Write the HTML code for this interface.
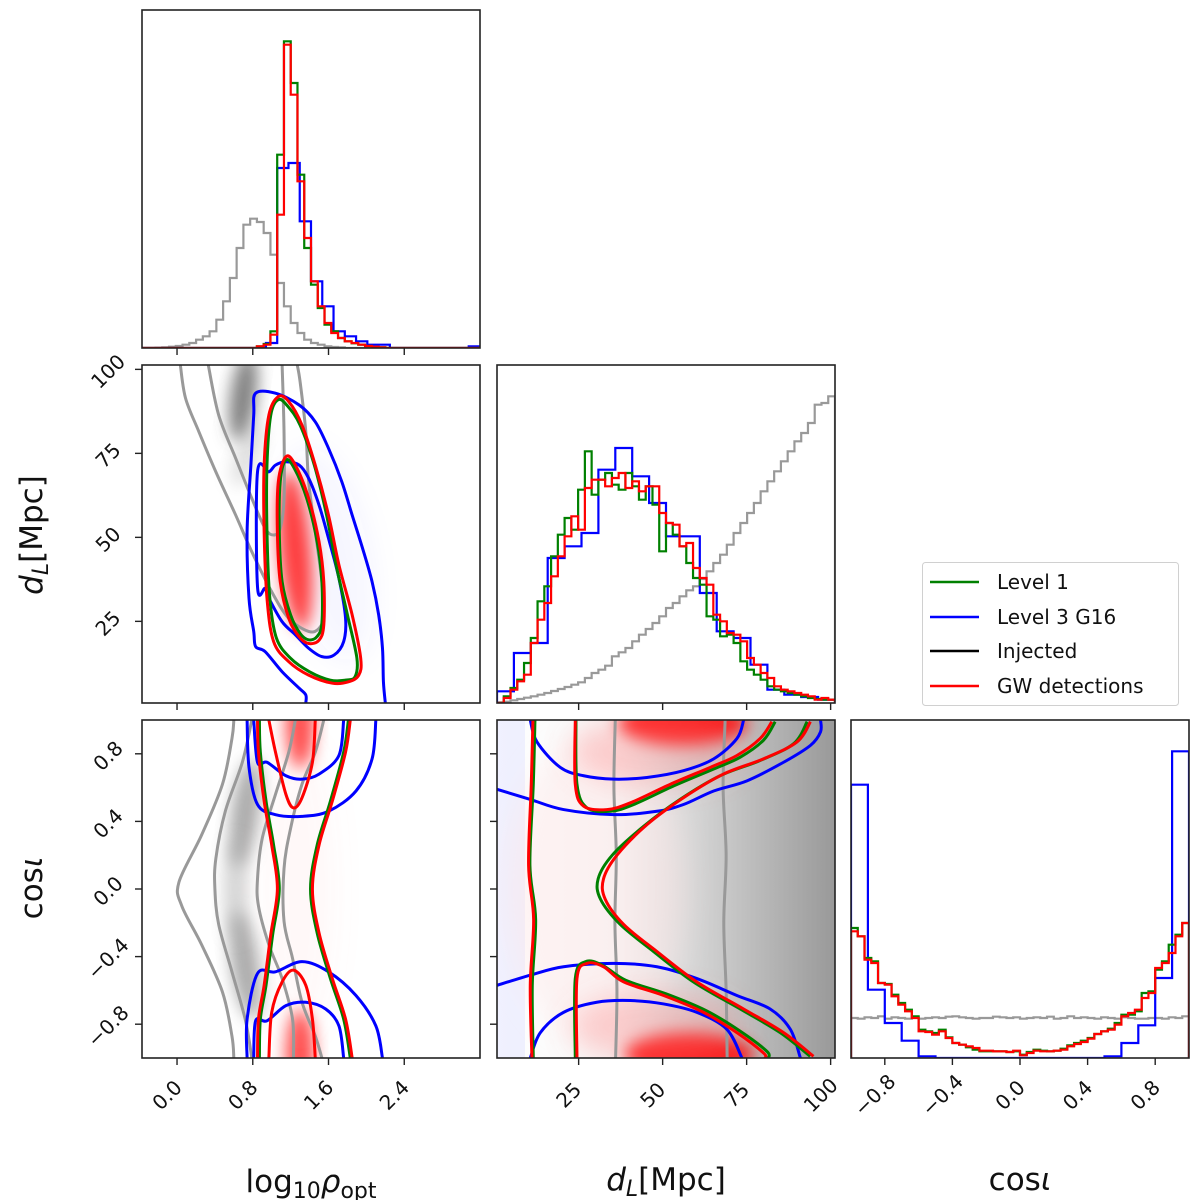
<!DOCTYPE html>
<html><head><meta charset="utf-8"><style>
html,body{margin:0;padding:0;background:#fff;}
svg{display:block;font-family:"DejaVu Sans","Liberation Sans",sans-serif;}
</style></head><body>
<svg id="fig" width="1200" height="1200" viewBox="0 0 1200 1200" xmlns="http://www.w3.org/2000/svg">
<defs>
<filter id="blur8" x="-50%" y="-50%" width="200%" height="200%"><feGaussianBlur stdDeviation="8"/></filter>
<filter id="blur14" x="-50%" y="-50%" width="200%" height="200%"><feGaussianBlur stdDeviation="14"/></filter>
<linearGradient id="greyRamp" x1="0" x2="1" y1="0" y2="0">
<stop offset="0" stop-color="#999" stop-opacity="0"/><stop offset="0.35" stop-color="#999" stop-opacity="0.08"/><stop offset="1" stop-color="#999" stop-opacity="1"/></linearGradient>
</defs>
</svg>
<script>
// ---- data ----
const rhoRange=[-0.37,3.2], dRange=[0.7,101.3], cRange=[-1,1];
const rhoTicks=[0.0,0.8,1.6,2.4], rhoTickLabels=["0.0","0.8","1.6","2.4"];
const dTicks=[25,50,75,100], dTickLabels=["25","50","75","100"];
const cTicks=[-0.8,-0.4,0.0,0.4,0.8], cTickLabels=["\u22120.8","\u22120.4","0.0","0.4","0.8"];
// rho histograms (50 bins; blue 30 bins)
const rhoGrey=[0,0,1,2,4,6,10,15,25,35,50,85,140,210,300,370,388,378,345,280,195,125,75,45,25,15,10,5,3,2,0,0,0,0,0,0,0,0,0,0,0,0,0,0,0,0,0,0,0,0];
const rhoRed=[0,0,0,0,0,0,0,0,0,0,0,0,0,0,0,0,0,5,10,40,400,910,760,500,330,200,125,75,45,30,20,15,10,6,4,2,0,0,0,0,0,0,0,0,0,0,0,0,0,0];
const rhoGreen=[0,0,0,0,0,0,0,0,0,0,0,0,0,0,0,0,0,5,12,50,580,920,795,520,300,190,120,70,50,30,20,14,10,6,3,2,0,0,0,0,0,0,0,0,0,0,0,0,0,0];
const rhoBlue=[0,0,0,0,0,0,0,0,0,0,0,15,540,555,380,200,125,50,35,20,10,10,0,0,0,0,0,0,0,5];
// dL histograms
const dGrey=[2,4,8,12,16,20,25,30,36,42,48,55,62,75,90,100,112,140,152,165,185,205,222,240,260,285,300,320,338,350,372,395,420,445,475,510,540,570,600,635,665,695,725,755,785,810,840,895,900,920];
const dRed=[0,15,40,65,85,180,250,300,380,440,500,560,520,645,670,670,650,675,690,645,665,635,650,650,570,540,535,470,480,405,375,355,265,245,210,205,185,135,115,90,75,50,40,35,30,25,20,10,15,10];
const dGreen=[0,20,45,70,120,195,305,350,440,505,555,520,640,755,625,670,690,655,640,690,650,610,650,595,455,540,505,470,420,375,355,260,250,200,205,180,125,100,85,70,50,40,35,30,25,20,15,12,10,10];
const dBlue=[35,150,180,435,470,510,700,765,680,600,500,500,330,215,195,115,40,25,18,10];
// cos histograms
const cRed=[380,365,295,285,225,220,185,160,140,120,80,78,70,80,60,45,40,35,30,22,22,20,20,18,22,8,15,22,20,20,22,25,35,42,48,58,72,80,85,100,125,135,145,180,195,270,285,315,365,405];
const cGreen=[390,365,300,290,225,222,190,165,145,125,85,80,75,85,62,45,40,32,25,20,20,20,20,18,20,10,18,25,22,20,22,28,38,45,52,60,72,80,88,105,130,130,140,195,200,265,290,340,370,405];
const cGrey=[120,118,122,120,125,118,122,120,118,122,118,120,122,120,124,125,122,120,118,120,120,124,122,120,122,118,120,122,120,124,118,120,125,120,122,120,118,122,120,118,122,120,118,118,120,120,118,122,120,125];
const cBlue=[820,205,105,52,5,0,0,0,0,0,0,0,0,0,0,5,45,98,240,920];
// contours: rho vs dL
const rdBlueOuter=[[1.36,0.7],[1.36,3.1],[1.29,5.1],[1.11,10],[0.93,16],[0.83,17.5],[0.81,22],[0.76,31.9],[0.74,51.7],[0.78,71.5],[0.81,86.4],[0.83,92.9],[1.04,92.9],[1.29,89.4],[1.46,84.4],[1.6,76.5],[1.74,66.6],[1.85,56.6],[1.96,46.7],[2.06,36.8],[2.13,26.9],[2.17,17],[2.18,7],[2.2,0.7]];
const rdBlueInner=[[0.85,69.5],[0.97,69.5],[1.04,71.5],[1.15,72.5],[1.29,71.5],[1.39,67.6],[1.5,59.6],[1.6,49.7],[1.71,37.8],[1.78,25.9],[1.76,19],[1.66,15],[1.53,14.5],[1.39,17],[1.25,21],[1.11,24.9],[0.97,31.9],[0.93,34.8],[0.85,35.3]];
const rdRedOuter=[[1.07,91.9],[1.18,90.4],[1.32,83.4],[1.46,71.5],[1.6,56.6],[1.71,41.8],[1.85,26.9],[1.94,14],[1.92,9],[1.81,7],[1.64,6.6],[1.39,9],[1.18,13],[1.02,19],[0.95,31.9],[0.92,51.7],[0.92,71.5],[0.97,86.4]];
const rdGreenOuter=[[1.07,91],[1.17,89],[1.3,83.4],[1.45,71.5],[1.58,56.6],[1.68,41.8],[1.8,26.9],[1.9,14],[1.88,8.5],[1.78,7.5],[1.62,7.5],[1.4,10],[1.2,14],[1.05,20],[0.98,31.9],[0.95,51.7],[0.95,71.5],[0.99,86.4]];
const rdRedInner=[[1.15,74],[1.25,71.5],[1.39,61.6],[1.5,48.7],[1.55,36.8],[1.55,23.9],[1.5,19.4],[1.39,18.4],[1.29,20.4],[1.18,25.9],[1.09,36.8],[1.06,51.7],[1.07,66.6]];
const rdGreenInner=[[1.15,73],[1.24,70.5],[1.37,61.6],[1.48,48.7],[1.53,36.8],[1.53,24.5],[1.48,20.5],[1.39,19.5],[1.3,21.4],[1.2,26.9],[1.11,36.8],[1.08,51.7],[1.09,66.6]];
const rdGreyOuter=[[0.035,101.3],[0.09,91.4],[0.23,81.5],[0.41,69.5],[0.62,56.6],[0.79,45.7],[1.0,33.8],[1.18,25.9],[1.39,22],[1.5,22.9],[1.55,26.9],[1.53,36.8],[1.46,51.7],[1.39,66.6],[1.36,81.5],[1.3,96.3],[1.27,101.3]];
const rdGreyInner=[[0.33,101.3],[0.44,86.4],[0.62,73.5],[0.79,61.6],[0.93,52.7],[1.02,50.7],[1.09,52.7],[1.13,61.6],[1.13,81.5],[1.11,101.3]];
// contours: rho vs cos
const rcGreyOuterL=[[0.6,1],[0.58,0.89],[0.48,0.62],[0.26,0.32],[0.02,0.04],[0.05,-0.1],[0.26,-0.33],[0.48,-0.61],[0.58,-0.87],[0.6,-1]];
const rcGreyInnerL=[[0.79,1],[0.69,0.75],[0.51,0.46],[0.41,0.18],[0.4,0],[0.44,-0.21],[0.58,-0.49],[0.72,-0.77],[0.79,-1]];
const rcGreyInnerR=[[1.25,1],[1.18,0.81],[1.04,0.56],[0.9,0.3],[0.85,0.06],[0.86,-0.1],[0.97,-0.33],[1.11,-0.53],[1.22,-0.77],[1.23,-1]];
const rcGreyOuterR=[[1.55,1],[1.46,0.81],[1.32,0.62],[1.2,0.36],[1.13,0.12],[1.13,-0.19],[1.22,-0.41],[1.32,-0.67],[1.46,-0.87],[1.53,-1]];
const rcRedL=[[0.85,1],[0.86,0.81],[0.92,0.52],[1.0,0.26],[1.06,0],[0.99,-0.27],[0.92,-0.57],[0.86,-0.77],[0.85,-1]];
const rcRedR=[[1.83,1],[1.78,0.81],[1.64,0.52],[1.5,0.26],[1.43,0],[1.5,-0.26],[1.64,-0.53],[1.78,-0.77],[1.85,-1]];
const rcGreenL=[[0.87,1],[0.88,0.81],[0.94,0.52],[1.02,0.26],[1.08,0],[1.01,-0.27],[0.94,-0.57],[0.88,-0.77],[0.87,-1]];
const rcGreenR=[[1.81,1],[1.76,0.81],[1.62,0.52],[1.48,0.26],[1.41,0],[1.48,-0.26],[1.62,-0.53],[1.76,-0.77],[1.83,-1]];
const rcRedTop=[[0.97,1],[1.04,0.81],[1.15,0.56],[1.23,0.48],[1.32,0.54],[1.43,0.75],[1.46,1]];
const rcRedBot=[[0.97,-1],[1.0,-0.73],[1.11,-0.55],[1.23,-0.48],[1.36,-0.57],[1.43,-0.77],[1.46,-1]];
const rcBlueOuterTop=[[0.74,1],[0.76,0.72],[0.85,0.5],[1.04,0.44],[1.32,0.43],[1.6,0.46],[1.89,0.58],[2.06,0.77],[2.1,1]];
const rcBlueInnerTop=[[0.81,1],[0.85,0.75],[0.95,0.75],[1.15,0.67],[1.32,0.65],[1.5,0.68],[1.71,0.79],[1.76,1]];
const rcBlueOuterBot=[[0.74,-1],[0.74,-0.77],[0.85,-0.5],[1.04,-0.49],[1.32,-0.43],[1.6,-0.49],[1.89,-0.63],[2.1,-0.81],[2.17,-1]];
const rcBlueInnerBot=[[0.81,-1],[0.83,-0.78],[0.95,-0.78],[1.15,-0.69],[1.36,-0.67],[1.57,-0.71],[1.71,-0.81],[1.76,-1]];
// contours: dL vs cos
const dcGreyA=[[35.9,1],[35.5,0.6],[36.2,0.2],[35.8,-0.2],[36.4,-0.6],[36.0,-1]];
const dcGreyB=[[68.6,1],[68.0,0.6],[68.9,0.2],[68.2,-0.2],[68.9,-0.6],[69.2,-1]];
const dcRedLeft=[[11.4,1],[10.9,0.62],[10.1,0.14],[11.6,-0.18],[10.6,-0.57],[11.1,-1]];
const dcGreenLeft=[[12.0,1],[11.5,0.62],[10.5,0.14],[12.2,-0.18],[11.2,-0.57],[11.5,-1]];
const dcRedTop=[[24,1],[24,0.62],[26.5,0.49],[33.4,0.47],[40.4,0.51],[52.3,0.62],[64.2,0.72],[72.1,0.79],[79,0.89],[82.5,0.99]];
const dcGreenTop=[[24.2,1],[24.5,0.62],[27.5,0.48],[34.5,0.46],[41.4,0.5],[53.3,0.61],[65.2,0.71],[73.1,0.78],[80,0.88],[83.5,0.99]];
const dcRedS=[[94,0.99],[90,0.87],[80,0.77],[68.1,0.68],[56.2,0.54],[45.3,0.38],[36.4,0.2],[32.4,0.06],[32.9,-0.06],[38.4,-0.21],[48.3,-0.37],[60.2,-0.55],[74.1,-0.71],[86,-0.85],[94.9,-0.99]];
const dcGreenS=[[93,0.99],[89,0.86],[79,0.76],[67.1,0.67],[55.2,0.53],[44.3,0.37],[35.0,0.2],[30.8,0.06],[31.5,-0.06],[37.4,-0.21],[47.3,-0.37],[59.2,-0.55],[73.1,-0.71],[85,-0.85],[93.9,-0.99]];
const dcRedBot=[[24.5,-1],[24.5,-0.53],[27.5,-0.44],[32.4,-0.46],[38.4,-0.55],[50.3,-0.63],[62.2,-0.73],[72.1,-0.85],[80,-0.97],[80.5,-1]];
const dcGreenBot=[[24.0,-1],[24.0,-0.53],[27,-0.43],[32,-0.45],[39,-0.54],[51,-0.62],[63,-0.72],[73,-0.84],[81,-0.96],[81.5,-1]];
const dcBlueOuterTop=[[0.7,0.59],[10.6,0.53],[20.5,0.47],[35.4,0.44],[48.3,0.46],[56.2,0.5],[65.2,0.58],[75.1,0.64],[86,0.75],[94,0.85],[97,0.93],[97,1]];
const dcBlueInnerTop=[[10.6,1],[12.6,0.87],[19.5,0.72],[26.5,0.67],[35.4,0.65],[45.3,0.66],[56.2,0.7],[65.2,0.77],[72.1,0.89],[74.1,1]];
const dcBlueOuterBot=[[0.7,-0.57],[10.6,-0.51],[20.5,-0.46],[35.4,-0.44],[48.3,-0.46],[60.2,-0.53],[72.1,-0.63],[82,-0.71],[88,-0.83],[91,-1]];
const dcBlueInnerBot=[[10.6,-1],[13.6,-0.85],[20.5,-0.73],[30.4,-0.67],[40.4,-0.66],[50.3,-0.68],[60.2,-0.73],[69.1,-0.83],[73.6,-1]];

// ---- drawing ----
const NS="http://www.w3.org/2000/svg";
const svg=document.getElementById('fig');
function el(tag,attrs,parent){const e=document.createElementNS(NS,tag);for(const k in attrs)e.setAttribute(k,attrs[k]);(parent||svg).appendChild(e);return e;}
const C={red:'#ff0000',green:'#008000',blue:'#0000ff',grey:'#999999'};
function panel(name,x0,y0,xr,yr){
  const p={x0,y0,w:338,h:338,xr,yr};
  p.sx=v=>x0+(v-xr[0])/(xr[1]-xr[0])*338;
  p.sy=v=>y0+338-(v-yr[0])/(yr[1]-yr[0])*338;
  p.g=el('g',{});
  
  
  const cp=el('clipPath',{id:'clip-'+name},svg.querySelector('defs'));
  el('rect',{x:x0,y:y0,width:338,height:338},cp);
  p.inner=el('g',{'clip-path':'url(#clip-'+name+')'},p.g);
  return p;
}
function frame(p){const r=el('rect',{x:p.x0,y:p.y0,width:338,height:338,fill:'none',stroke:'#222','stroke-width':1.6},p.g);
  
  }
function hist(p,vals,range,color,name,sw){
  const n=vals.length,b=p.y0+338;let d='M'+p.sx(range[0])+','+b;
  for(let i=0;i<n;i++){const xa=p.sx(range[0]+(range[1]-range[0])*i/n),xb=p.sx(range[0]+(range[1]-range[0])*(i+1)/n),y=b-vals[i]/3;d+=' L'+xa+','+y+' L'+xb+','+y;}
  d+=' L'+p.sx(range[1])+','+b;
  const e=el('path',{d,fill:'none',stroke:color,'stroke-width':sw||2.2,'stroke-linejoin':'miter'},p.inner);
  
  
}
function smooth(pts,closed){
  const P=closed?[pts[pts.length-1],...pts,pts[0],pts[1]]:[pts[0],...pts,pts[pts.length-1]];
  let d='M'+P[1][0]+','+P[1][1];
  for(let i=1;i<P.length-2;i++){const p0=P[i-1],p1=P[i],p2=P[i+1],p3=P[i+2];
    d+=' C'+(p1[0]+(p2[0]-p0[0])/6)+','+(p1[1]+(p2[1]-p0[1])/6)+' '+(p2[0]-(p3[0]-p1[0])/6)+','+(p2[1]-(p3[1]-p1[1])/6)+' '+p2[0]+','+p2[1];}
  return d+(closed?'Z':'');
}
function contour(p,data,color,name,closed,sw){
  const pts=data.map(q=>[p.sx(q[0]),p.sy(q[1])]);
  const e=el('path',{d:smooth(pts,closed),fill:'none',stroke:color,'stroke-width':sw||3,'stroke-linejoin':'round'},p.inner);
  
  
}
function blob(p,cx,cy,rx,ry,color,op,rot,filt){
  const e=el('ellipse',{cx:p.sx(cx),cy:p.sy(cy),rx,ry,fill:color,'fill-opacity':op,filter:'url(#'+(filt||'blur14')+')',transform:'rotate('+(rot||0)+' '+p.sx(cx)+' '+p.sy(cy)+')'},p.inner);
  
  
}
function xticks(p,ticks,labels){
  ticks.forEach((t,i)=>{const x=p.sx(t),b=p.y0+338;
    const l=el('line',{x1:x,x2:x,y1:b,y2:b+7,stroke:'#222','stroke-width':1.4},p.g);
    
    
    if(labels){const cx=x-10,cy=b+37;const tx=el('text',{x:cx,y:cy+7,'font-size':20,'text-anchor':'middle',fill:'#111',transform:'rotate(-45 '+cx+' '+cy+')'},p.g);tx.textContent=labels[i];
      
      }
  });
}
function yticks(p,ticks,labels){
  ticks.forEach((t,i)=>{const y=p.sy(t),l0=p.x0;
    const l=el('line',{x1:l0-7,x2:l0,y1:y,y2:y,stroke:'#222','stroke-width':1.4},p.g);
    
    
    if(labels){const cx=l0-34,cy=y+2;const tx=el('text',{x:cx,y:cy+7,'font-size':20,'text-anchor':'middle',fill:'#111',transform:'rotate(-45 '+cx+' '+cy+')'},p.g);tx.textContent=labels[i];
      
      }
  });
}

// Panel: rho histogram
const p1=panel('rho-histogram',142,10,rhoRange,[0,1]);
hist(p1,rhoGrey,rhoRange,C.grey,'rho-hist-injected');
hist(p1,rhoBlue,rhoRange,C.blue,'rho-hist-level3');
hist(p1,rhoGreen,rhoRange,C.green,'rho-hist-level1');
hist(p1,rhoRed,rhoRange,C.red,'rho-hist-gw');
frame(p1);xticks(p1,rhoTicks,null);

// Panel: rho vs dL
const p2=panel('rho-dl-panel',142,365,rhoRange,dRange);
blob(p2,0.7,92,13,45,'#555',0.75,8,'blur8');
blob(p2,0.75,75,12,35,'#999',0.3,20,'blur8');
blob(p2,1.6,45,40,110,'#3344ff',0.05,-12);
blob(p2,1.25,46,16,80,'#ff0000',0.75,-5,'blur8');
contour(p2,rdGreyOuter,C.grey,'rho-dl-injected-outer',false);
contour(p2,rdGreyInner,C.grey,'rho-dl-injected-inner',false);
contour(p2,rdBlueOuter,C.blue,'rho-dl-level3-outer',false);
contour(p2,rdBlueInner,C.blue,'rho-dl-level3-inner',true);
contour(p2,rdGreenOuter,C.green,'rho-dl-level1-outer',true);
contour(p2,rdGreenInner,C.green,'rho-dl-level1-inner',true);
contour(p2,rdRedOuter,C.red,'rho-dl-gw-outer',true);
contour(p2,rdRedInner,C.red,'rho-dl-gw-inner',true);
frame(p2);xticks(p2,rhoTicks,null);yticks(p2,dTicks,dTickLabels);

// Panel: dL histogram
const p3=panel('dl-histogram',497,365,dRange,[0,1]);
hist(p3,dGrey,dRange,C.grey,'dl-hist-injected');
hist(p3,dBlue,dRange,C.blue,'dl-hist-level3');
hist(p3,dGreen,dRange,C.green,'dl-hist-level1');
hist(p3,dRed,dRange,C.red,'dl-hist-gw');
frame(p3);xticks(p3,dTicks,null);

// Panel: rho vs cos
const p4=panel('rho-cos-panel',142,720,rhoRange,cRange);
blob(p4,0.72,0.45,14,55,'#888',0.7,8,'blur8');
blob(p4,0.72,-0.45,14,55,'#888',0.7,-8,'blur8');
blob(p4,0.62,0,12,50,'#aaa',0.5,0,'blur8');
blob(p4,1.3,0.98,14,45,'#ff0000',0.7,0,'blur8');
blob(p4,1.3,-0.98,14,45,'#ff0000',0.7,0,'blur8');
blob(p4,1.3,0,35,150,'#ff8888',0.06,0);
contour(p4,rcGreyOuterL,C.grey,'rho-cos-injected-outer-left',false);
contour(p4,rcGreyInnerL,C.grey,'rho-cos-injected-inner-left',false);
contour(p4,rcGreyInnerR,C.grey,'rho-cos-injected-inner-right',false);
contour(p4,rcGreyOuterR,C.grey,'rho-cos-injected-outer-right',false);
contour(p4,rcBlueOuterTop,C.blue,'rho-cos-level3-outer-top',false);
contour(p4,rcBlueInnerTop,C.blue,'rho-cos-level3-inner-top',false);
contour(p4,rcBlueOuterBot,C.blue,'rho-cos-level3-outer-bottom',false);
contour(p4,rcBlueInnerBot,C.blue,'rho-cos-level3-inner-bottom',false);
contour(p4,rcGreenL,C.green,'rho-cos-level1-left',false);
contour(p4,rcGreenR,C.green,'rho-cos-level1-right',false);
contour(p4,rcRedL,C.red,'rho-cos-gw-left',false);
contour(p4,rcRedR,C.red,'rho-cos-gw-right',false);
contour(p4,rcRedTop,C.red,'rho-cos-gw-inner-top',false);
contour(p4,rcRedBot,C.red,'rho-cos-gw-inner-bottom',false);
frame(p4);xticks(p4,rhoTicks,rhoTickLabels);yticks(p4,cTicks,cTickLabels);

// Panel: dL vs cos
const p5=panel('dl-cos-panel',497,720,dRange,cRange);
(function(){const r=el('rect',{x:497,y:720,width:338,height:338,fill:'url(#greyRamp)'},p5.inner);
  
  
  const b=el('rect',{x:497,y:720,width:28,height:338,fill:'#dde0ff','fill-opacity':0.45},p5.inner);
  
  })();
blob(p5,30,0,90,150,'#ffe4e4',0.4,0);
blob(p5,56,0.98,65,22,'#ff0000',0.85,0,'blur8');
blob(p5,58,-0.98,65,22,'#ff0000',0.85,0,'blur8');
blob(p5,48,0.82,85,35,'#ff7777',0.3,0);
blob(p5,48,-0.82,85,35,'#ff7777',0.3,0);
contour(p5,dcGreyA,C.grey,'dl-cos-injected-a',false);
contour(p5,dcGreyB,C.grey,'dl-cos-injected-b',false);
contour(p5,dcBlueOuterTop,C.blue,'dl-cos-level3-outer-top',false);
contour(p5,dcBlueInnerTop,C.blue,'dl-cos-level3-inner-top',false);
contour(p5,dcBlueOuterBot,C.blue,'dl-cos-level3-outer-bottom',false);
contour(p5,dcBlueInnerBot,C.blue,'dl-cos-level3-inner-bottom',false);
contour(p5,dcGreenLeft,C.green,'dl-cos-level1-left',false);
contour(p5,dcGreenTop,C.green,'dl-cos-level1-top',false);
contour(p5,dcGreenS,C.green,'dl-cos-level1-s',false);
contour(p5,dcGreenBot,C.green,'dl-cos-level1-bottom',false);
contour(p5,dcRedLeft,C.red,'dl-cos-gw-left',false);
contour(p5,dcRedTop,C.red,'dl-cos-gw-top',false);
contour(p5,dcRedS,C.red,'dl-cos-gw-s',false);
contour(p5,dcRedBot,C.red,'dl-cos-gw-bottom',false);
frame(p5);xticks(p5,dTicks,dTickLabels);yticks(p5,cTicks,null);

// Panel: cos histogram
const p6=panel('cos-histogram',851,720,cRange,[0,1]);
hist(p6,cGrey,cRange,C.grey,'cos-hist-injected');
hist(p6,cBlue,cRange,C.blue,'cos-hist-level3');
hist(p6,cGreen,cRange,C.green,'cos-hist-level1');
hist(p6,cRed,cRange,C.red,'cos-hist-gw');
frame(p6);xticks(p6,cTicks,cTickLabels);
</script>
<svg style="position:absolute;left:0;top:0" width="1200" height="1200">
<g font-family="DejaVu Sans, Liberation Sans, sans-serif" fill="#111">
<text x="311" y="1192" font-size="31" text-anchor="middle">log<tspan font-size="22" dy="6">10</tspan><tspan dy="-6" font-style="italic">ρ</tspan><tspan font-size="22" dy="6">opt</tspan></text>
<text x="666" y="1190" font-size="31" text-anchor="middle"><tspan font-style="italic">d</tspan><tspan font-size="22" dy="6" font-style="italic">L</tspan><tspan dy="-6">[Mpc]</tspan></text>
<text x="1020" y="1190" font-size="31" text-anchor="middle">cos<tspan font-style="italic">ι</tspan></text>
<text x="0" y="0" font-size="31" text-anchor="middle" transform="translate(42,535) rotate(-90)"><tspan font-style="italic">d</tspan><tspan font-size="22" dy="6" font-style="italic">L</tspan><tspan dy="-6">[Mpc]</tspan></text>
<text x="0" y="0" font-size="31" text-anchor="middle" transform="translate(42,888) rotate(-90)">cos<tspan font-style="italic">ι</tspan></text>
</g>
<g>
<rect x="922.5" y="562.5" width="256" height="143" rx="3" fill="#fff" fill-opacity="0.8" stroke="#d0d0d0" stroke-width="1"/>
<line x1="930" x2="979" y1="582" y2="582" stroke="#008000" stroke-width="2.5"/>
<line x1="930" x2="979" y1="617" y2="617" stroke="#0000ff" stroke-width="2.5"/>
<line x1="930" x2="979" y1="651" y2="651" stroke="#000" stroke-width="2.5"/>
<line x1="930" x2="979" y1="686" y2="686" stroke="#ff0000" stroke-width="2.5"/>
<g font-family="DejaVu Sans, Liberation Sans, sans-serif" font-size="20" fill="#111">
<text x="997" y="589">Level 1</text>
<text x="997" y="624">Level 3 G16</text>
<text x="997" y="658">Injected</text>
<text x="997" y="693">GW detections</text>
</g></g>
</svg>
</body></html>
